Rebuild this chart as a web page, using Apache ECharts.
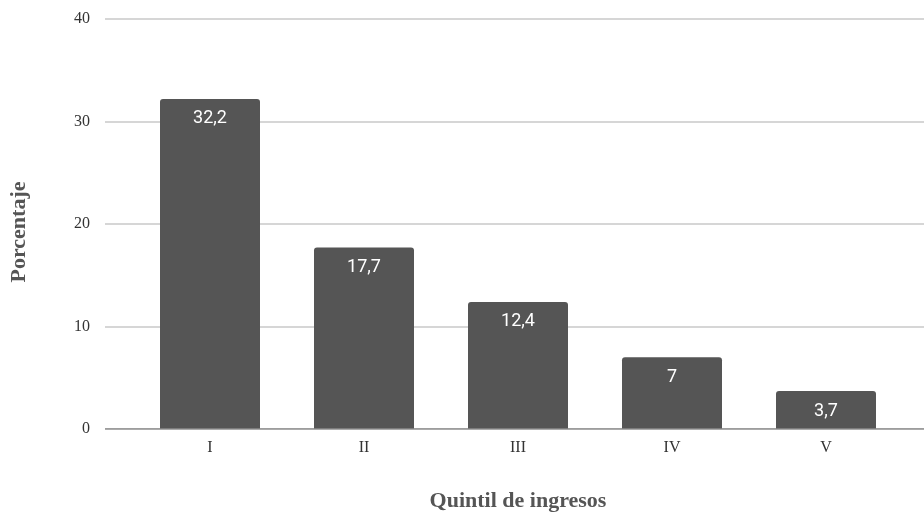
<!DOCTYPE html>
<html>
<head>
<meta charset="utf-8">
<script src="https://cdn.jsdelivr.net/npm/echarts@6/dist/echarts.min.js"></script>
<style>
  html, body { margin: 0; padding: 0; background: #fff; }
  #chart { width: 924px; height: 515px; }
</style>
</head>
<body>
<div id="chart"></div>
<script>
// Income quintiles and share (%) for each
const quintiles = ['I', 'II', 'III', 'IV', 'V'];
const porcentajes = [32.2, 17.7, 12.4, 7, 3.7];
const yTicks = { min: 0, max: 40, interval: 10 };

const serif = '"Liberation Serif", "DejaVu Serif", serif';
const chart = echarts.init(document.getElementById('chart'));

const fmt = v => String(v).replace('.', ',');

chart.setOption({
  animation: false,
  backgroundColor: '#ffffff',
  grid: [
    // background grid carrying the horizontal reference lines and y labels
    { left: 105, right: 0, top: 19, bottom: 86 },
    // grid holding the bars
    { left: 133, right: 21, top: 19, bottom: 86 }
  ],
  xAxis: [
    { gridIndex: 0, type: 'value', min: 0, max: 1, show: false },
    {
      gridIndex: 1, type: 'category', data: quintiles,
      axisLine: { show: false },
      axisTick: { show: false },
      axisLabel: { fontFamily: serif, fontSize: 16, color: '#333', margin: 11 }
    }
  ],
  yAxis: [
    {
      gridIndex: 0, type: 'value', min: yTicks.min, max: yTicks.max, interval: yTicks.interval,
      axisLine: { show: false }, axisTick: { show: false },
      axisLabel: { fontFamily: serif, fontSize: 16, color: '#333', margin: 15 },
      splitLine: { lineStyle: { color: '#c8c8c8', width: 1.5 } }
    },
    {
      gridIndex: 1, type: 'value', min: yTicks.min, max: yTicks.max, interval: yTicks.interval,
      show: false
    }
  ],
  graphic: [
    {
      type: 'text', x: 19, y: 232, rotation: Math.PI / 2,
      style: {
        text: 'Porcentaje', fontFamily: serif, fontWeight: 'bold', fontSize: 22,
        fill: '#555', align: 'center', verticalAlign: 'middle'
      }
    },
    {
      type: 'text', x: 518, y: 501,
      style: {
        text: 'Quintil de ingresos', fontFamily: serif, fontWeight: 'bold', fontSize: 22,
        fill: '#555', align: 'center', verticalAlign: 'middle'
      }
    }
  ],
  series: [
    {
      type: 'bar',
      xAxisIndex: 1, yAxisIndex: 1,
      data: porcentajes,
      barWidth: 100,
      itemStyle: { color: '#555555', borderRadius: [3, 3, 0, 0] },
      label: {
        show: true, position: 'insideTop', distance: 11,
        color: '#ffffff', fontFamily: 'Roboto, sans-serif', fontSize: 18,
        formatter: p => fmt(p.value)
      }
    },
    {
      // baseline drawn over the bars
      type: 'line', xAxisIndex: 0, yAxisIndex: 0,
      data: [[0, 0], [1, 0]], symbol: 'none', silent: true,
      lineStyle: { color: '#8a8a8a', width: 1.5 }, z: 5
    }
  ]
});
</script>
</body>
</html>
